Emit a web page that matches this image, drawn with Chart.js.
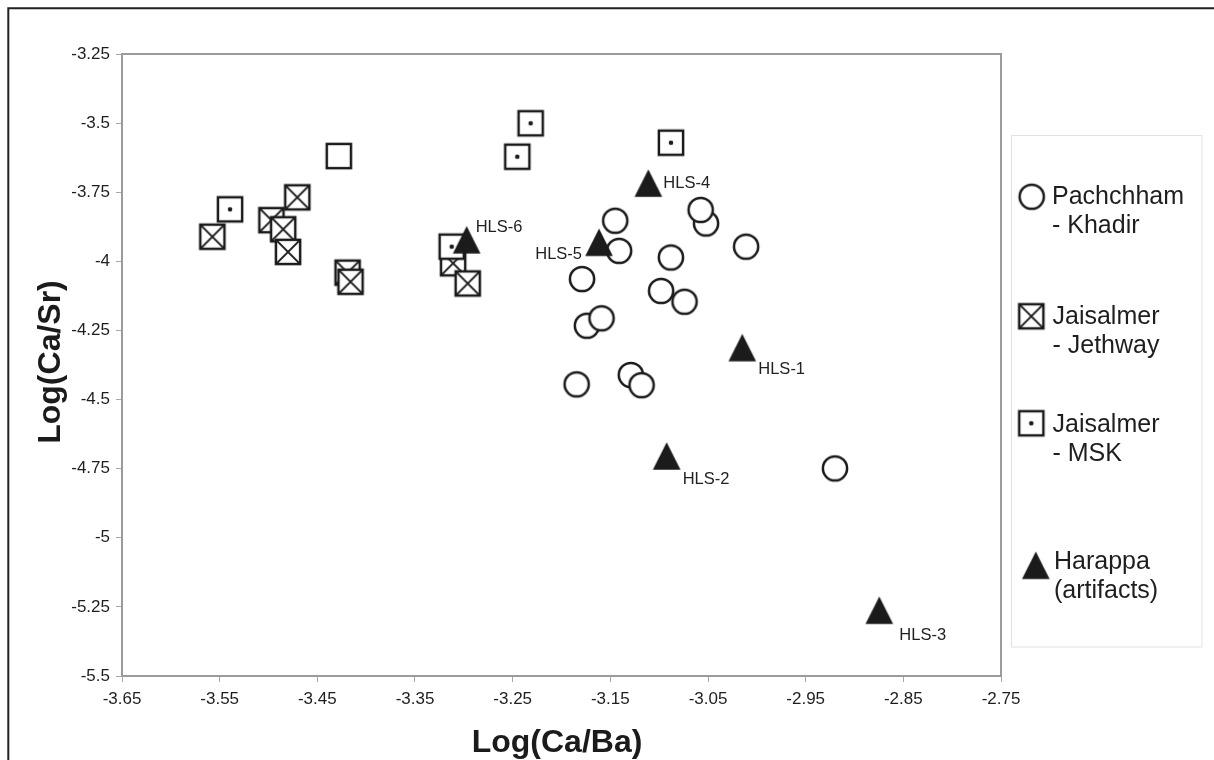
<!DOCTYPE html>
<html>
<head>
<meta charset="utf-8">
<title>Log(Ca/Sr) vs Log(Ca/Ba)</title>
<script src="https://cdn.jsdelivr.net/npm/chart.js@4/dist/chart.umd.min.js"></script>
<style>
    html, body { margin: 0; padding: 0; background: #fff; }
    #plot { display: block; }
</style>
</head>
<body>
<canvas id="plot" width="1214" height="760"></canvas>
<script>
// Pachchham - Khadir
var khadirX = [-3.145, -3.052, -3.0575, -3.141, -3.011, -3.088, -3.179, -3.098, -3.074, -3.174, -3.159, -3.1845, -3.129, -3.118, -2.920];
var khadirY = [-3.853, -3.863, -3.814, -3.962, -3.947, -3.986, -4.064, -4.107, -4.146, -4.233, -4.206, -4.445, -4.411, -4.448, -4.749];

// Jaisalmer - Jethway
var jethwayX = [-3.5575, -3.4705, -3.497, -3.485, -3.480, -3.419, -3.416, -3.311, -3.296];
var jethwayY = [-3.911, -3.7685, -3.851, -3.884, -3.966, -4.041, -4.074, -4.007, -4.080];

// Jaisalmer - MSK
var mskX = [-3.5394, -3.2316, -3.2453, -3.0879, -3.3124];
var mskY = [-3.812, -3.5007, -3.6216, -3.571, -3.947];

// single open square without a dot
var openX = [-3.428];
var openY = [-3.619];

// Harappa (artifacts)
var harappaX = [-3.0149, -3.0923, -2.8746, -3.1111, -3.1616, -3.2971];
var harappaY = [-4.312, -4.704, -5.262, -3.717, -3.931, -3.922];
var harappaLabels = ['HLS-1', 'HLS-2', 'HLS-3', 'HLS-4', 'HLS-5', 'HLS-6'];

var xTicks = [-3.65, -3.55, -3.45, -3.35, -3.25, -3.15, -3.05, -2.95, -2.85, -2.75];
var yTicks = [-3.25, -3.5, -3.75, -4, -4.25, -4.5, -4.75, -5, -5.25, -5.5];

var legendText = [
    ['Pachchham', '- Khadir'],
    ['Jaisalmer', '- Jethway'],
    ['Jaisalmer', '- MSK'],
    ['Harappa', '(artifacts)']
];

var FONT = '"Liberation Sans", Arial, Helvetica, sans-serif';
var INK = '#1b1b1b';

function pairs(xs, ys) {
    return xs.map(function (x, i) { return { x: x, y: ys[i] }; });
}

// marker sprites used both on the plot and in the key
function makeMarker(kind) {
    var size = 32;
    var c = document.createElement('canvas');
    c.width = size;
    c.height = size;
    var g = c.getContext('2d');
    var m = size / 2;
    g.strokeStyle = INK;
    g.fillStyle = '#fff';
    g.lineWidth = 2.5;
    if (kind === 'circle') {
        g.beginPath();
        g.arc(m, m, 12.1, 0, Math.PI * 2);
        g.fill();
        g.stroke();
    } else if (kind === 'triangle') {
        g.fillStyle = INK;
        g.beginPath();
        g.moveTo(m, m - 13.8);
        g.lineTo(m + 13.8, m + 13.8);
        g.lineTo(m - 13.8, m + 13.8);
        g.closePath();
        g.fill();
    } else {
        var h = 12.1;
        g.fillRect(m - h, m - h, 2 * h, 2 * h);
        g.strokeRect(m - h, m - h, 2 * h, 2 * h);
        if (kind === 'cross') {
            g.lineWidth = 2;
            g.beginPath();
            g.moveTo(m - h, m - h);
            g.lineTo(m + h, m + h);
            g.moveTo(m + h, m - h);
            g.lineTo(m - h, m + h);
            g.stroke();
        } else if (kind === 'dot') {
            g.fillStyle = INK;
            g.beginPath();
            g.arc(m, m, 2.3, 0, Math.PI * 2);
            g.fill();
        }
    }
    return c;
}

var markers = {
    circle: makeMarker('circle'),
    cross: makeMarker('cross'),
    dot: makeMarker('dot'),
    open: makeMarker('open'),
    triangle: makeMarker('triangle')
};

// offsets of the HLS sample names from their triangles (negative dx = text to the left)
var labelOffsets = [[16, 22], [16, 24], [20, 25], [15, 0], [-17, 12], [9, -12]];

var framePlugin = {
    id: 'frame',
    beforeDatasetsDraw: function (chart) {
        var ctx = chart.ctx;
        var a = chart.chartArea;
        ctx.save();
        ctx.strokeStyle = '#9b9b9b';
        ctx.lineWidth = 2;
        ctx.strokeRect(a.left, a.top, a.right - a.left, a.bottom - a.top);
        ctx.restore();
    },
    afterDraw: function (chart) {
        var ctx = chart.ctx;
        var a = chart.chartArea;
        ctx.save();
        // outer figure border
        ctx.strokeStyle = '#222';
        ctx.lineWidth = 2;
        ctx.beginPath();
        ctx.moveTo(8.3, chart.height);
        ctx.lineTo(8.3, 8.3);
        ctx.lineTo(chart.width, 8.3);
        ctx.stroke();

        // axis titles
        ctx.fillStyle = '#1b1b1b';
        ctx.font = 'bold 32px ' + FONT;
        ctx.textAlign = 'center';
        ctx.textBaseline = 'middle';
        ctx.fillText('Log(Ca/Ba)', 557, 743);
        ctx.translate(51, (a.top + a.bottom) / 2 - 3);
        ctx.rotate(-Math.PI / 2);
        ctx.fillText('Log(Ca/Sr)', 0, 0);
        ctx.restore();
    }
};

var hlsPlugin = {
    id: 'hlsLabels',
    afterDatasetsDraw: function (chart) {
        var meta = chart.getDatasetMeta(4);
        var ctx = chart.ctx;
        ctx.save();
        ctx.font = '16.5px ' + FONT;
        ctx.fillStyle = '#222';
        ctx.textBaseline = 'middle';
        meta.data.forEach(function (pt, i) {
            var off = labelOffsets[i];
            ctx.textAlign = off[0] < 0 ? 'right' : 'left';
            ctx.fillText(harappaLabels[i], pt.x + off[0], pt.y + off[1]);
        });
        ctx.restore();
    }
};

var keyPlugin = {
    id: 'keyBox',
    afterDraw: function (chart) {
        var ctx = chart.ctx;
        var rows = [
            { marker: markers.circle, mx: 1031.7, my: 196.7, tx: 1052, ty: 197 },
            { marker: markers.cross, mx: 1031.3, my: 316.3, tx: 1052.5, ty: 317 },
            { marker: markers.dot, mx: 1031.3, my: 423.3, tx: 1052.5, ty: 425 },
            { marker: markers.triangle, mx: 1035.8, my: 565.3, tx: 1054, ty: 562 }
        ];
        ctx.save();
        ctx.strokeStyle = '#e2e2e2';
        ctx.lineWidth = 1;
        ctx.strokeRect(1011.5, 135.5, 190.5, 511.5);
        ctx.font = '25px ' + FONT;
        ctx.fillStyle = '#1e1e1e';
        ctx.textAlign = 'left';
        ctx.textBaseline = 'middle';
        rows.forEach(function (r, i) {
            var m = r.marker;
            ctx.drawImage(m, r.mx - m.width / 2, r.my - m.height / 2);
            ctx.fillText(legendText[i][0], r.tx, r.ty);
            ctx.fillText(legendText[i][1], r.tx, r.ty + 29);
        });
        ctx.restore();
    }
};

function fixedTicks(list) {
    return function (scale) {
        scale.ticks = list.map(function (v) { return { value: v }; });
    };
}

document.addEventListener('DOMContentLoaded', function () {
    var ctx = document.getElementById('plot').getContext('2d');
    var tickFont = { family: FONT, size: 17 };

    var scatterChart = new Chart(ctx, {
        type: 'scatter',
        data: {
            datasets: [{
                label: 'Pachchham - Khadir',
                data: pairs(khadirX, khadirY),
                pointStyle: markers.circle,
                order: 5
            }, {
                label: 'Jaisalmer - Jethway',
                data: pairs(jethwayX, jethwayY),
                pointStyle: markers.cross,
                order: 4
            }, {
                label: 'Jaisalmer - MSK',
                data: pairs(mskX, mskY),
                pointStyle: markers.dot,
                order: 2
            }, {
                label: 'open square',
                data: pairs(openX, openY),
                pointStyle: markers.open,
                order: 3
            }, {
                label: 'Harappa (artifacts)',
                data: pairs(harappaX, harappaY),
                pointStyle: markers.triangle,
                order: 1
            }]
        },
        options: {
            responsive: false,
            animation: false,
            events: [],
            layout: {
                padding: { left: 0, top: 54, right: 213, bottom: 0 }
            },
            plugins: {
                legend: { display: false },
                tooltip: { enabled: false }
            },
            scales: {
                x: {
                    type: 'linear',
                    min: -3.65,
                    max: -2.75,
                    afterBuildTicks: fixedTicks(xTicks),
                    afterFit: function (scale) { scale.height = 84; },
                    border: { display: false },
                    grid: {
                        drawOnChartArea: false,
                        tickLength: 6,
                        color: '#a8a8a8'
                    },
                    ticks: {
                        font: tickFont,
                        color: '#1e1e1e',
                        padding: 7,
                        maxRotation: 0,
                        callback: function (value) { return String(value); }
                    }
                },
                y: {
                    type: 'linear',
                    min: -5.5,
                    max: -3.25,
                    afterBuildTicks: fixedTicks(yTicks),
                    afterFit: function (scale) { scale.width = 122; },
                    border: { display: false },
                    grid: {
                        drawOnChartArea: false,
                        tickLength: 6,
                        color: '#a8a8a8'
                    },
                    ticks: {
                        font: tickFont,
                        color: '#1e1e1e',
                        padding: 6,
                        callback: function (value) { return String(value); }
                    }
                }
            }
        },
        plugins: [framePlugin, hlsPlugin, keyPlugin]
    });
});
</script>
</body>
</html>
